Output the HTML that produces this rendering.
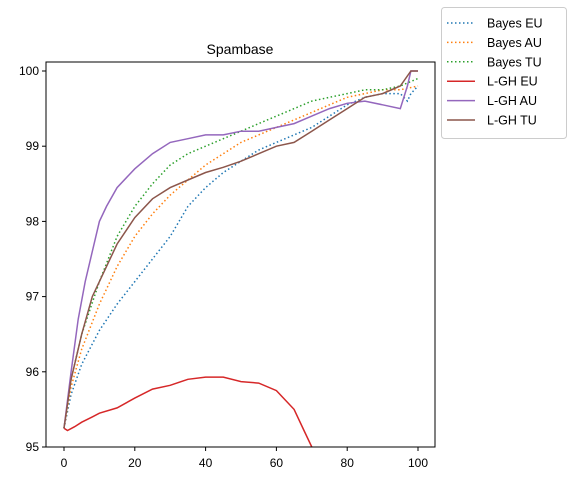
<!DOCTYPE html>
<html><head><meta charset="utf-8"><style>
body{margin:0;background:#fff;}
svg{font-family:"Liberation Sans","DejaVu Sans",sans-serif;}
</style></head><body>
<svg id="c" width="571" height="481" xmlns="http://www.w3.org/2000/svg">
<defs><clipPath id="clip"><rect x="46" y="62" width="389" height="385"/></clipPath></defs>
<rect x="0" y="0" width="571" height="481" fill="#fff"/>
<text x="240" y="54" font-size="14" text-anchor="middle">Spambase</text>
<g id="series" clip-path="url(#clip)"></g>
<g id="axes"></g>
<rect x="46" y="62" width="389" height="385" fill="none" stroke="#000" stroke-width="1"/>
<g id="legend"></g>
</svg>
<script>
const xTicks=[0,20,40,60,80,100];
const yTicks=[95,96,97,98,99,100];
const seriesNames=["Bayes EU","Bayes AU","Bayes TU","L-GH EU","L-GH AU","L-GH TU"];
const seriesColors=["#1f77b4","#ff7f0e","#2ca02c","#d62728","#9467bd","#8c564b"];
const seriesDashed=[true,true,true,false,false,false];
const xBayesEU=[0,2,5,10,15,20,25,30,35,40,45,50,55,60,65,70,75,80,85,90,95,97,98,100];
const yBayesEU=[95.25,95.7,96.1,96.55,96.9,97.2,97.5,97.8,98.2,98.45,98.65,98.8,98.95,99.05,99.15,99.25,99.4,99.55,99.65,99.7,99.7,99.6,99.7,99.8];
const xBayesAU=[0,2,5,10,15,20,25,30,35,40,45,50,55,60,65,70,75,80,85,90,95,100];
const yBayesAU=[95.25,95.8,96.3,96.9,97.4,97.8,98.1,98.35,98.55,98.75,98.9,99.05,99.15,99.25,99.35,99.45,99.55,99.65,99.7,99.75,99.75,99.8];
const xBayesTU=[0,2,5,10,15,20,25,30,35,40,45,50,55,60,65,70,75,80,85,90,95,100];
const yBayesTU=[95.25,95.9,96.5,97.2,97.8,98.2,98.5,98.75,98.9,99.0,99.1,99.2,99.3,99.4,99.5,99.6,99.65,99.7,99.75,99.75,99.8,99.9];
const xLghEU=[0,1,3,5,8,10,15,20,25,30,35,40,45,50,55,60,65,68,70,72];
const yLghEU=[95.25,95.22,95.27,95.33,95.4,95.45,95.52,95.65,95.77,95.82,95.9,95.93,95.93,95.87,95.85,95.75,95.5,95.2,95.0,94.8];
const xLghAU=[0,2,4,6,8,10,12,15,20,25,30,35,40,45,50,55,60,65,70,75,80,85,90,95,97,98,100];
const yLghAU=[95.25,96.0,96.7,97.2,97.6,98.0,98.2,98.45,98.7,98.9,99.05,99.1,99.15,99.15,99.2,99.2,99.25,99.3,99.4,99.5,99.57,99.6,99.55,99.5,99.8,100,100];
const xLghTU=[0,2,5,8,10,15,20,25,30,35,40,45,50,55,60,65,70,75,80,85,90,95,98,100];
const yLghTU=[95.25,95.9,96.5,97.0,97.2,97.7,98.05,98.3,98.45,98.55,98.65,98.72,98.8,98.9,99.0,99.05,99.2,99.35,99.5,99.65,99.7,99.8,100,100];
const allX=[xBayesEU,xBayesAU,xBayesTU,xLghEU,xLghAU,xLghTU];
const allY=[yBayesEU,yBayesAU,yBayesTU,yLghEU,yLghAU,yLghTU];
const NS="http://www.w3.org/2000/svg";
const sx=v=>64+v*3.54;
const sy=v=>447-(v-95)*75.2;
function mk(t,a){const e=document.createElementNS(NS,t);for(const k in a)e.setAttribute(k,a[k]);return e;}
const ax=document.getElementById('axes');
xTicks.forEach(t=>{
 const l=mk('line',{x1:sx(t),x2:sx(t),y1:447,y2:451,stroke:'#000'});
 
 
 ax.appendChild(l);
 const tx=mk('text',{x:sx(t),y:467,'font-size':12,'text-anchor':'middle'});
 tx.textContent=t;
 
 
 ax.appendChild(tx);
});
yTicks.forEach(t=>{
 const l=mk('line',{x1:42,x2:46,y1:sy(t),y2:sy(t),stroke:'#000'});
 
 
 ax.appendChild(l);
 const tx=mk('text',{x:39,y:sy(t)+4,'font-size':12,'text-anchor':'end'});
 tx.textContent=t;
 
 
 ax.appendChild(tx);
});
const sg=document.getElementById('series');
allX.forEach((xs,i)=>{
 const d=xs.map((x,j)=>(j?'L':'M')+sx(x).toFixed(1)+','+sy(allY[i][j]).toFixed(1)).join('');
 const p=mk('path',{d:d,fill:'none',stroke:seriesColors[i],'stroke-width':1.5});
 if(seriesDashed[i])p.setAttribute('stroke-dasharray','1.5,2.5');
 
 
 sg.appendChild(p);
});
const lg=document.getElementById('legend');
const box=mk('rect',{x:441.5,y:7.5,width:125,height:131,rx:3,fill:'#fff',stroke:'#ccc'});


lg.appendChild(box);
seriesNames.forEach((n,i)=>{
 const y=23+i*19.4;
 const l=mk('line',{x1:447,x2:475,y1:y,y2:y,stroke:seriesColors[i],'stroke-width':1.5});
 if(seriesDashed[i])l.setAttribute('stroke-dasharray','1.5,2.5');
 
 
 lg.appendChild(l);
 const t=mk('text',{x:487,y:y+4.5,'font-size':12.5});
 t.textContent=n;
 
 
 lg.appendChild(t);
});
</script>
</body></html>
